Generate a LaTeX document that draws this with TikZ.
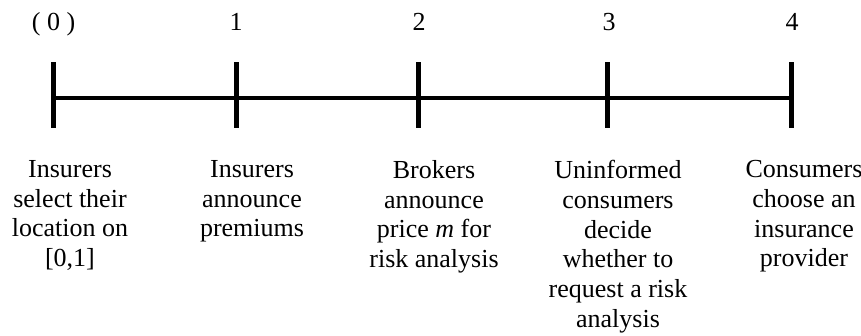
\documentclass[tikz,border=0pt]{standalone}
\usepackage{fontspec}
\setmainfont{Liberation Serif}
\usepackage{tikz}

\begin{document}
\begin{tikzpicture}[x=1pt, y=-1pt, font=\fontsize{26}{29.8}\selectfont,
	tick/.style={line width=5pt}, axis/.style={line width=4pt},
	stage/.style={inner sep=0pt, anchor=base},
	event/.style={inner sep=0pt, anchor=north, align=center}]
		\useasboundingbox (0,0) rectangle (861,335);

		\coordinate (p0) at (53.5,98);
		\coordinate (p1) at (236,98);
		\coordinate (p2) at (418,98);
		\coordinate (p3) at (607.5,98);
		\coordinate (p4) at (791,98);

		\node[stage] (n0) at (53.5,30) {( 0 )};
		\node[stage] (n1) at (236,30) {1};
		\node[stage] (n2) at (419,30) {2};
		\node[stage] (n3) at (609,30) {3};
		\node[stage] (n4) at (792,30) {4};

		\draw[axis] (p0) -- (p4);
		\draw[tick] (p0) ++(0,-36) -- ++(0,66);
		\draw[tick] (p1) ++(0,-36) -- ++(0,66);
		\draw[tick] (p2) ++(0,-36) -- ++(0,66);
		\draw[tick] (p3) ++(0,-36) -- ++(0,66);
		\draw[tick] (p4) ++(0,-36) -- ++(0,66);

		\node[event] (e0) at (70,160) {Insurers\\select their\\location on\\{[0,1]}};
		\node[event] (e1) at (252,160) {Insurers\\announce\\premiums};
		\node[event] (e2) at (434,160) {Brokers\\announce\\price \textit{m} for\\risk analysis};
		\node[event] (e3) at (618,160) {Uninformed\\consumers\\decide\\whether to\\request a risk\\analysis};
		\node[event] (e4) at (804,160) {Consumers\\choose an\\insurance\\provider};
	\end{tikzpicture}
\end{document}
